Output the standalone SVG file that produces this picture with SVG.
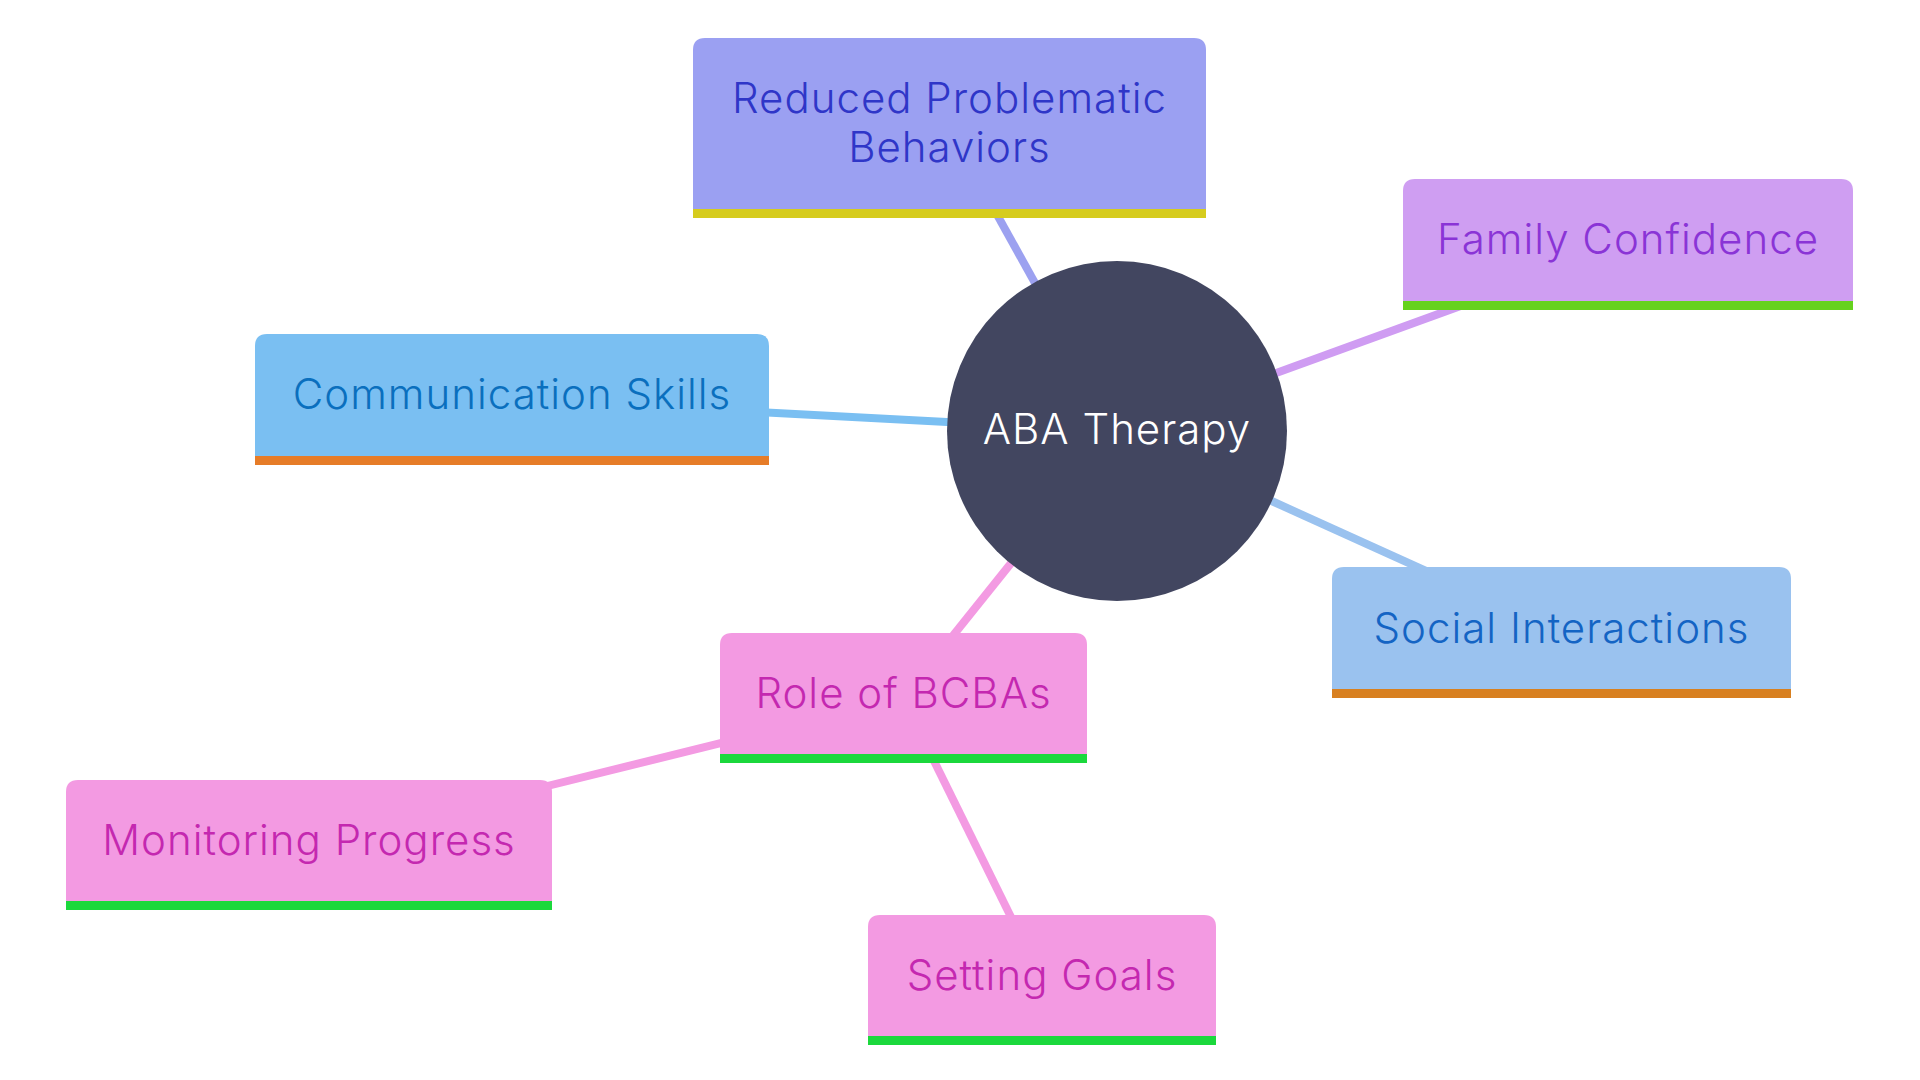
<svg xmlns="http://www.w3.org/2000/svg" width="1920" height="1080" viewBox="0 0 1920 1080">
<style>
text{font-family:Inter,"Open Sans","Liberation Sans",sans-serif;font-size:42px;font-weight:300;letter-spacing:1px;text-anchor:middle;dominant-baseline:central}
.e{fill:none;stroke-width:8;stroke-linecap:butt}
.pk{fill:#f39ae2}.pkt{fill:#c428b0}.gb{fill:#1bd83c}
</style>
<rect width="1920" height="1080" fill="#ffffff"/>
<g id="connectors">
<line class="e" x1="1117" y1="431" x2="949" y2="128" stroke="#9ca1f0"/>
<line class="e" x1="1117" y1="431" x2="1628" y2="245" stroke="#cf9cf2"/>
<line class="e" x1="1117" y1="431" x2="512" y2="399" stroke="#7abff2"/>
<line class="e" x1="1117" y1="431" x2="1561" y2="632" stroke="#9ac2ef"/>
<line class="e" x1="1117" y1="431" x2="903" y2="698" stroke="#f39ae2"/>
<line class="e" x1="903" y1="698" x2="309" y2="845" stroke="#f39ae2"/>
<line class="e" x1="903" y1="698" x2="1042" y2="980" stroke="#f39ae2"/>
</g>
<g id="node-reduced">
<path d="M693,218 L693,50 Q693,38 705,38 L1194,38 Q1206,38 1206,50 L1206,218 Z" fill="#9ba0f2"/>
<rect x="693" y="209" width="513" height="9" fill="#d6cc1e"/>
<text x="949.5" y="97" fill="#2f36c8">Reduced Problematic</text>
<text x="949.5" y="146" fill="#2f36c8">Behaviors</text>
</g>
<g id="node-family">
<path d="M1403,310 L1403,191 Q1403,179 1415,179 L1841,179 Q1853,179 1853,191 L1853,310 Z" fill="#cf9ef2"/>
<rect x="1403" y="301" width="450" height="9" fill="#66d21e"/>
<text x="1628" y="238" fill="#8a34d6">Family Confidence</text>
</g>
<g id="node-communication">
<path d="M255,465 L255,346 Q255,334 267,334 L757,334 Q769,334 769,346 L769,465 Z" fill="#7abff2"/>
<rect x="255" y="456" width="514" height="9" fill="#e67c28"/>
<text x="512" y="393" fill="#0a6fbe">Communication Skills</text>
</g>
<g id="node-social">
<path d="M1332,698 L1332,579 Q1332,567 1344,567 L1779,567 Q1791,567 1791,579 L1791,698 Z" fill="#9ac2ef"/>
<rect x="1332" y="689" width="459" height="9" fill="#d88020"/>
<text x="1561.5" y="627" fill="#1464c4">Social Interactions</text>
</g>
<g id="node-aba">
<circle cx="1117" cy="431" r="170" fill="#424660"/>
<text x="1117" y="428" fill="#ffffff">ABA Therapy</text>
</g>
<g id="node-role">
<path class="pk" d="M720,763 L720,645 Q720,633 732,633 L1075,633 Q1087,633 1087,645 L1087,763 Z"/>
<rect class="gb" x="720" y="754" width="367" height="9"/>
<text class="pkt" x="903.5" y="692">Role of BCBAs</text>
</g>
<g id="node-monitoring">
<path class="pk" d="M66,910 L66,792 Q66,780 78,780 L540,780 Q552,780 552,792 L552,910 Z"/>
<rect class="gb" x="66" y="901" width="486" height="9"/>
<text class="pkt" x="309" y="839">Monitoring Progress</text>
</g>
<g id="node-setting">
<path class="pk" d="M868,1045 L868,927 Q868,915 880,915 L1204,915 Q1216,915 1216,927 L1216,1045 Z"/>
<rect class="gb" x="868" y="1036" width="348" height="9"/>
<text class="pkt" x="1042" y="974">Setting Goals</text>
</g>
</svg>
